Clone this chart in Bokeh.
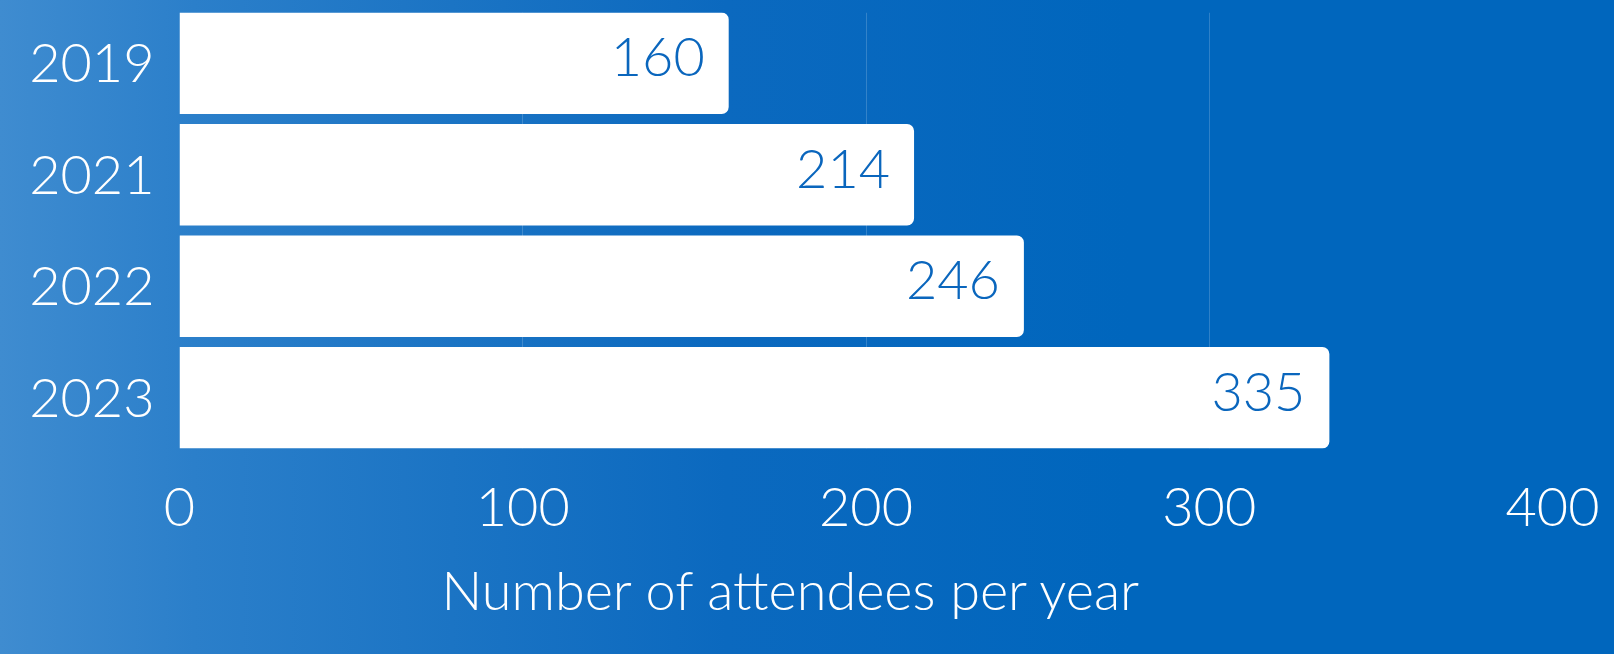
from bokeh.plotting import figure
from bokeh.models import (Range1d, FixedTicker, ColumnDataSource, GlobalInlineStyleSheet, Title)
from bokeh.core.properties import value
from bokeh.embed import file_html
from bokeh.resources import INLINE

# ---- data ----
years = ["2019", "2021", "2022", "2023"]
attendees = [160, 214, 246, 335]
x_ticks = [0, 100, 200, 300, 400]
x_title = "Number of attendees per year"

# ---- style ----
FONT = "Lato Light"
FS = "54px"
BAR_H = 0.91
LABEL_BLUE = "#0a66bd"

n = len(years)
ypos = [n - 1 - i for i in range(n)]
src = ColumnDataSource(dict(y=ypos, v=attendees, lab=[str(a) for a in attendees]))

p = figure(width=1614, height=654, output_backend="svg", toolbar_location=None,
           x_range=Range1d(x_ticks[0], x_ticks[-1]),
           y_range=Range1d(-BAR_H / 2, n - 1 + BAR_H / 2),
           min_border_left=179, min_border_right=62, min_border_top=12, min_border_bottom=206)

p.background_fill_color = None
p.border_fill_color = None
p.outline_line_color = None

p.stylesheets = [GlobalInlineStyleSheet(css=(
    "body { background: linear-gradient(90deg, #3f8cd0 0%, #2b7fca 12%, #1b74c4 28%, "
    "#0b69bf 45%, #0066bd 70%, #0066bd 100%); }"))]

# grid
p.ygrid.visible = False
p.xgrid.ticker = FixedTicker(ticks=x_ticks)
p.xgrid.grid_line_color = "white"
p.xgrid.grid_line_alpha = 0.18
p.xgrid.grid_line_width = 1

# bars
p.hbar(y="y", right="v", left=0, height=BAR_H, source=src, fill_color="white",
       line_color=None, border_radius=(0, 7, 7, 0))

# value labels
p.text(x="v", y="y", text="lab", source=src, x_offset=-24, y_offset=-6, text_align="right",
       text_baseline="middle", text_color=LABEL_BLUE, text_font=value(FONT),
       text_font_size=FS)

# axes
for ax in (p.xaxis[0], p.yaxis[0]):
    ax.axis_line_color = None
    ax.major_tick_line_color = None
    ax.minor_tick_line_color = None
    ax.major_tick_in = 0
    ax.major_tick_out = 0
    ax.major_label_text_color = "white"
    ax.major_label_text_font = FONT
    ax.major_label_text_font_size = FS

p.xaxis[0].ticker = FixedTicker(ticks=x_ticks)
p.xaxis[0].major_label_standoff = 39
p.yaxis[0].ticker = FixedTicker(ticks=ypos)
p.yaxis[0].major_label_overrides = {y: yr for y, yr in zip(ypos, years)}
p.yaxis[0].major_label_standoff = 25

t = Title(text=x_title, align="left", offset=262, vertical_align="top", text_color="white",
          text_font=FONT, text_font_size=FS, text_font_style="normal", standoff=56)
p.add_layout(t, "below")

open("out.html", "w").write(file_html(p, INLINE))
